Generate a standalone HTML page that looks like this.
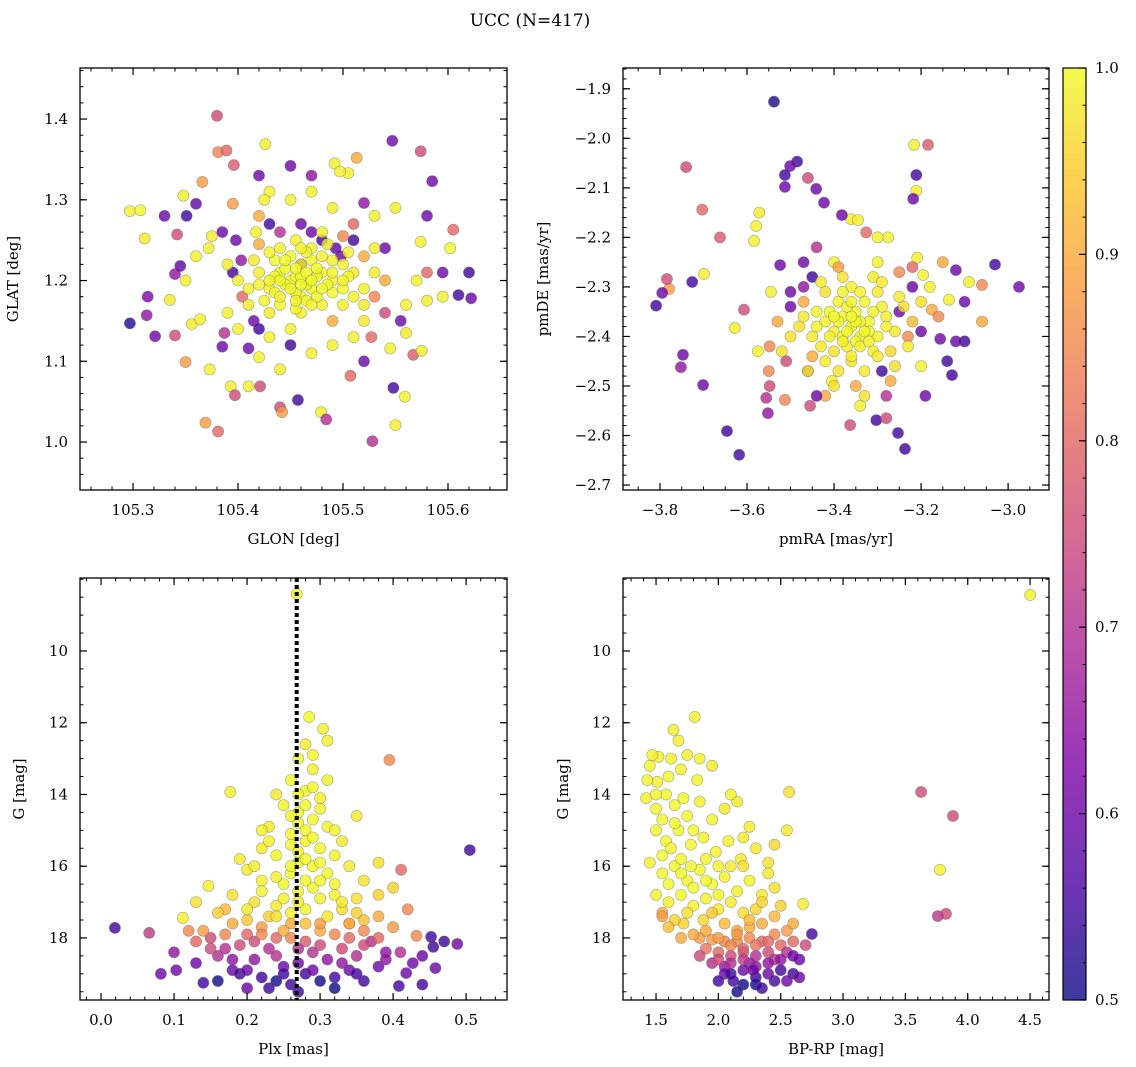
<!DOCTYPE html>
<html><head><meta charset="utf-8"><title>UCC (N=417)</title>
<style>
html,body{margin:0;padding:0;background:#fff;}
svg{display:block;font-family:"DejaVu Serif","Liberation Serif",serif;}
</style></head>
<body>
<svg id="fig" width="1136" height="1067" viewBox="0 0 1136 1067" xmlns="http://www.w3.org/2000/svg">
<defs>
<linearGradient id="plasma" x1="0" y1="1" x2="0" y2="0">
<stop offset="0" stop-color="#0d0887"/><stop offset="0.125" stop-color="#4c02a1"/><stop offset="0.25" stop-color="#7e03a8"/><stop offset="0.375" stop-color="#a92395"/><stop offset="0.5" stop-color="#cc4778"/><stop offset="0.625" stop-color="#e66c5c"/><stop offset="0.75" stop-color="#f89540"/><stop offset="0.875" stop-color="#fdc328"/><stop offset="1" stop-color="#f0f921"/>
</linearGradient>
</defs>
<text x="530" y="26" font-size="17" text-anchor="middle">UCC (N=417)</text>
</svg>
<script>
// ---- data: [x, y, membership probability] ----
const glonGlatProb = [
[105.297,1.286,.99],[105.307,1.287,1],[105.297,1.147,.52],[105.311,1.252,.98],[105.314,1.180,.62],[105.313,1.157,.65],[105.321,1.131,.6],[105.340,1.208,.65],[105.345,1.218,.58],[105.351,1.280,.55],[105.348,1.305,.99],[105.342,1.257,.75],[105.360,1.295,.58],[105.366,1.322,.88],[105.380,1.404,.75],[105.381,1.359,.85],[105.389,1.361,.8],[105.396,1.343,.78],[105.395,1.295,.88],[105.426,1.369,.99],[105.450,1.342,.6],[105.547,1.373,.6],[105.574,1.360,.75],[105.585,1.323,.6],[105.574,1.248,.99],[105.595,1.210,.6],[105.610,1.182,.55],[105.622,1.178,.6],[105.620,1.210,.55],[105.602,1.240,1],[105.605,1.263,.8],[105.595,1.180,.99],[105.567,1.108,.78],[105.548,1.067,.55],[105.559,1.056,.99],[105.550,1.021,.99],[105.528,1.001,.7],[105.479,1.037,.99],[105.484,1.028,.7],[105.457,1.052,.55],[105.440,1.043,.75],[105.442,1.037,.88],[105.369,1.024,.88],[105.381,1.013,.8],[105.393,1.069,.99],[105.410,1.069,.99],[105.421,1.069,.75],[105.397,1.058,.75],[105.507,1.082,.8],[105.350,1.099,.88],[105.373,1.090,.99],[105.340,1.132,.75],[105.335,1.176,.98],[105.356,1.146,.98],[105.364,1.152,.99],[105.387,1.135,.7],[105.385,1.118,.6],[105.410,1.116,.6],[105.420,1.105,.99],[105.545,1.116,.99],[105.560,1.135,.98],[105.575,1.113,.99],[105.555,1.150,.6],[105.540,1.160,.75],[105.560,1.170,.99],[105.580,1.175,.98],[105.580,1.210,.8],[105.540,1.240,.6],[105.520,1.296,.65],[105.530,1.280,.99],[105.510,1.270,.8],[105.505,1.333,.99],[105.513,1.352,.9],[105.470,1.330,.65],[105.492,1.345,.99],[105.497,1.335,.99],[105.470,1.310,.99],[105.430,1.310,.99],[105.425,1.300,.99],[105.385,1.260,.6],[105.372,1.240,.99],[105.375,1.255,.98],[105.398,1.250,.6],[105.403,1.225,.65],[105.395,1.210,.55],[105.404,1.180,.8],[105.415,1.150,.6],[105.420,1.140,.55],[105.430,1.130,.99],[105.450,1.120,.55],[105.470,1.110,.99],[105.490,1.120,.99],[105.510,1.130,.99],[105.520,1.150,.98],[105.527,1.130,.8],[105.498,1.230,.6],[105.480,1.250,.55],[105.460,1.270,.6],[105.440,1.260,.7],[105.420,1.280,.9],[105.417,1.260,.99],[105.460,1.220,.6],[105.493,1.240,.58],
[105.47,1.26,.6],[105.43,1.27,.55],[105.51,1.25,.55],[105.4,1.14,.99],[105.35,1.2,.99],[105.57,1.2,.99],[105.58,1.28,.6],[105.33,1.28,.6],[105.49,1.29,.99],[105.45,1.3,.99],[105.44,1.09,.99],[105.52,1.1,.6],[105.36,1.23,.99],[105.55,1.29,.99],[105.42,1.33,.6],[105.39,1.16,.99],
[105.44,1.21,1],[105.45,1.20,1],[105.46,1.22,.99],[105.47,1.19,1],[105.48,1.21,1],[105.46,1.18,1],[105.43,1.19,.99],[105.45,1.23,1],[105.49,1.20,.99],[105.50,1.19,1],[105.47,1.24,.99],[105.44,1.17,1],[105.48,1.17,.99],[105.51,1.21,.98],[105.42,1.21,.99],[105.455,1.205,1],[105.465,1.195,1],[105.475,1.205,1],[105.435,1.225,1],[105.49,1.225,.99],[105.50,1.17,.99],[105.46,1.16,.99],[105.43,1.16,.98],[105.52,1.19,.99],[105.455,1.25,.99],[105.485,1.245,.98],[105.445,1.195,1],[105.475,1.18,1],[105.49,1.185,1],[105.46,1.205,1],[105.41,1.19,.99],[105.53,1.21,.98],[105.47,1.225,1],[105.44,1.24,.99],[105.425,1.175,.99],[105.505,1.235,.99],[105.415,1.225,.98],[105.52,1.23,.9],[105.5,1.255,.85],[105.45,1.14,.99],[105.49,1.15,.9],[105.53,1.18,.85],[105.42,1.245,.9],[105.40,1.20,.99],[105.54,1.20,.9],[105.48,1.26,.99],[105.435,1.205,1],[105.465,1.175,1],[105.455,1.185,1],[105.485,1.195,1],[105.445,1.215,1],[105.475,1.215,1],[105.465,1.235,.99],[105.505,1.205,1],[105.435,1.185,1],[105.455,1.165,.99],
[105.445,1.225,1],[105.455,1.215,1],[105.465,1.21,1],[105.47,1.2,1],[105.48,1.19,1],[105.44,1.2,1],[105.43,1.2,.99],[105.45,1.19,1],[105.46,1.195,1],[105.47,1.17,.99],[105.49,1.21,.99],[105.50,1.22,.99],[105.51,1.18,.99],[105.42,1.195,.99],[105.43,1.235,.99],[105.46,1.24,.99],[105.48,1.23,.99],[105.5,1.2,.99],[105.455,1.175,.99],[105.44,1.18,.99],[105.41,1.17,.98],[105.52,1.17,.98],[105.39,1.22,.98],[105.53,1.24,.98]
];
const pmraPmdeProb = [
[-3.538,-1.926,.52],[-3.485,-2.047,.55],[-3.501,-2.056,.6],[-3.513,-2.074,.55],[-3.513,-2.098,.6],[-3.46,-2.08,.75],[-3.441,-2.102,.6],[-3.423,-2.13,.6],[-3.216,-2.013,.99],[-3.184,-2.013,.78],[-3.211,-2.074,.55],[-3.211,-2.106,.99],[-3.218,-2.122,.6],[-3.74,-2.058,.75],[-3.662,-2.2,.78],[-3.703,-2.144,.8],[-3.572,-2.15,.98],[-3.579,-2.177,.99],[-3.584,-2.207,.99],[-3.699,-2.274,.99],[-3.779,-2.304,.88],[-3.784,-2.284,.75],[-3.809,-2.338,.55],[-3.726,-2.29,.55],[-3.795,-2.312,.6],[-3.747,-2.437,.6],[-3.752,-2.462,.65],[-3.701,-2.498,.6],[-3.646,-2.591,.55],[-3.618,-2.639,.55],[-3.556,-2.524,.7],[-3.552,-2.555,.65],[-3.237,-2.627,.55],[-3.253,-2.595,.55],[-3.303,-2.569,.55],[-3.28,-2.565,.75],[-2.975,-2.300,.6],[-3.03,-2.255,.55],[-3.06,-2.296,.85],[-3.09,-2.29,.99],[-3.12,-2.266,.6],[-3.1,-2.33,.6],[-3.1,-2.41,.55],[-3.12,-2.41,.6],[-3.14,-2.45,.55],[-3.06,-2.37,.9],[-3.129,-2.478,.55],[-3.156,-2.405,.6],[-3.136,-2.326,.99],[-3.175,-2.346,.9],[-3.195,-2.276,.99],[-3.209,-2.241,.99],[-3.276,-2.2,.99],[-3.326,-2.19,.8],[-3.361,-2.163,.99],[-3.382,-2.155,.6],[-3.345,-2.165,.99],[-3.524,-2.256,.6],[-3.545,-2.31,.99],[-3.607,-2.346,.75],[-3.628,-2.383,.99],[-3.575,-2.43,.99],[-3.548,-2.42,.85],[-3.548,-2.5,.75],[-3.513,-2.528,.85],[-3.455,-2.54,.75],[-3.363,-2.579,.75],[-3.34,-2.54,.99],[-3.405,-2.49,.99],[-3.2,-2.46,.99],[-3.19,-2.52,.6],[-3.22,-2.3,.6],[-3.5,-2.34,.6],[-3.47,-2.3,.65],[-3.45,-2.28,.55],[-3.25,-2.35,.6],[-3.23,-2.4,.85],[-3.29,-2.47,.55],[-3.46,-2.47,.7],[-3.42,-2.52,.9],[-3.51,-2.45,.75],[-3.18,-2.3,.99],[-3.15,-2.25,.9],[-3.44,-2.22,.7],[-3.4,-2.25,.99],[-3.3,-2.25,.99],[-3.25,-2.27,.85],
[-3.5,-2.31,.6],[-3.2,-2.39,.6],[-3.44,-2.52,.6],[-3.28,-2.52,.7],[-3.55,-2.47,.85],[-3.16,-2.36,.85],[-3.22,-2.26,.8],[-3.39,-2.26,.88],[-3.3,-2.2,.99],[-3.47,-2.25,.6],
[-3.36,-2.38,1],[-3.38,-2.36,1],[-3.34,-2.40,1],[-3.32,-2.37,1],[-3.40,-2.39,.99],[-3.35,-2.35,1],[-3.30,-2.40,.99],[-3.37,-2.42,.99],[-3.42,-2.37,.99],[-3.33,-2.33,1],[-3.28,-2.36,.99],[-3.39,-2.33,.99],[-3.45,-2.40,.98],[-3.31,-2.43,.99],[-3.36,-2.45,.98],[-3.40,-2.43,.97],[-3.26,-2.39,.98],[-3.44,-2.35,.99],[-3.36,-2.30,.99],[-3.30,-2.31,.98],[-3.42,-2.31,.97],[-3.34,-2.37,1],[-3.38,-2.40,1],[-3.48,-2.38,.97],[-3.24,-2.34,.97],[-3.33,-2.47,.98],[-3.39,-2.47,.97],[-3.27,-2.43,.96],[-3.45,-2.44,.9],[-3.50,-2.40,.97],[-3.22,-2.37,.92],[-3.35,-2.41,1],[-3.32,-2.39,1],[-3.37,-2.34,1],[-3.29,-2.34,.99],[-3.41,-2.35,1],[-3.43,-2.42,.98],[-3.31,-2.28,.98],[-3.38,-2.28,.97],[-3.35,-2.50,.9],[-3.27,-2.49,.9],[-3.47,-2.33,.9],[-3.53,-2.37,.9],
[-3.35,-2.37,1],[-3.37,-2.39,1],[-3.33,-2.39,1],[-3.39,-2.37,1],[-3.36,-2.36,1],[-3.34,-2.42,.99],[-3.38,-2.41,.99],[-3.31,-2.35,.99],[-3.41,-2.4,.99],[-3.32,-2.41,.99],[-3.4,-2.36,1],[-3.36,-2.33,.99],[-3.28,-2.38,.99],[-3.44,-2.38,.99],[-3.36,-2.44,.99],[-3.3,-2.44,.98],[-3.42,-2.45,.98],[-3.25,-2.32,.98],[-3.47,-2.36,.98],[-3.34,-2.31,.99],[-3.38,-2.31,.99],[-3.46,-2.47,.98],[-3.23,-2.42,.98],[-3.52,-2.43,.97],[-3.2,-2.33,.97],[-3.33,-2.52,.97],[-3.4,-2.5,.97],[-3.26,-2.46,.97],[-3.29,-2.29,.98],[-3.43,-2.29,.98]
];
const plxGmagProb = [
[0.019,17.72,.55],[0.066,17.86,.72],[0.082,19.0,.6],[0.103,18.9,.6],[0.112,17.44,.99],[0.505,15.55,.55],[0.488,18.17,.6],[0.408,19.34,.55],[0.418,18.98,.6],[0.458,18.84,.6],[0.452,17.97,.55],[0.455,18.25,.55],[0.427,18.7,.6],[0.432,17.94,.85],[0.411,16.1,.8],[0.395,13.04,.85],[0.13,18.7,.6],[0.14,19.25,.55],[0.16,19.2,.5],[0.17,18.3,.7],[0.15,18.0,.75],[0.12,17.8,.85],[0.18,18.9,.6],[0.2,19.4,.6],[0.21,18.6,.65],[0.22,19.1,.55],[0.24,19.2,.5],[0.25,18.8,.6],[0.26,19.3,.55],[0.28,19.0,.55],[0.3,19.2,.5],[0.32,19.1,.55],[0.34,18.9,.6],[0.36,19.2,.55],[0.38,18.8,.6],[0.39,18.4,.65],[0.37,18.1,.7],[0.35,18.5,.7],[0.33,18.3,.75],[0.31,18.6,.65],[0.29,18.4,.7],[0.27,18.7,.6],[0.23,18.3,.7],[0.19,18.2,.75],[0.16,18.5,.7],[0.2,17.9,.8],[0.24,18.0,.8],[0.28,18.1,.78],[0.32,17.9,.85],[0.36,17.8,.85],[0.4,17.7,.88],[0.42,17.2,.85],[0.38,17.4,.9],[0.34,17.6,.9],[0.3,17.8,.9],[0.26,17.6,.9],[0.22,17.7,.88],[0.18,17.6,.9],[0.14,17.8,.88],[0.17,17.2,.92],[0.41,18.4,.7],[0.44,18.5,.6],[0.1,18.4,.65],[0.27,19.5,.55],[0.23,19.4,.55],
[0.15,18.3,.75],[0.18,18.6,.65],[0.21,18.1,.75],[0.24,18.5,.7],[0.27,18.3,.7],[0.3,18.2,.75],[0.33,18.7,.65],[0.36,18.2,.75],[0.39,18.6,.65],[0.25,19.0,.55],[0.29,18.9,.6],[0.32,19.4,.5],[0.19,19.0,.55],[0.22,17.9,.85],[0.26,18.0,.85],[0.3,17.6,.88],[0.34,18.0,.8],[0.38,18.0,.8],[0.17,17.9,.85],[0.13,18.1,.8],[0.44,19.3,.55],[0.47,18.1,.55],[0.2,18.9,.6],[0.35,19.0,.55],
[0.268,8.41,.99],[0.285,11.84,1],[0.304,12.17,.99],[0.177,13.93,.99],[0.147,16.55,.99],[0.28,12.6,.99],[0.27,13.0,1],[0.29,13.3,.99],[0.26,13.6,1],[0.28,13.9,1],[0.3,14.1,.99],[0.25,14.3,.99],[0.27,14.5,1],[0.29,14.7,1],[0.31,14.9,.99],[0.23,14.9,.98],[0.26,15.1,1],[0.28,15.3,1],[0.3,15.5,1],[0.33,15.3,.98],[0.22,15.5,.98],[0.24,15.7,1],[0.27,15.9,1],[0.29,16.0,1],[0.31,16.2,1],[0.34,16.0,.98],[0.36,16.4,.97],[0.2,16.1,.98],[0.22,16.4,.99],[0.25,16.5,1],[0.27,16.7,1],[0.29,16.6,1],[0.32,16.8,.99],[0.35,16.9,.97],[0.38,16.8,.95],[0.18,16.8,.97],[0.21,17.0,.97],[0.24,17.1,.98],[0.26,17.3,.99],[0.28,17.2,1],[0.31,17.4,.98],[0.33,17.2,.97],[0.36,17.5,.93],[0.16,17.3,.95],[0.2,17.5,.94],[0.23,17.4,.95],[0.3,16.4,1],[0.26,16.2,1],[0.32,15.7,.99],[0.35,14.6,.98],[0.24,14.0,.98],[0.31,13.6,.99],[0.22,15.0,.99],[0.38,15.9,.97],[0.4,16.6,.95],[0.13,17.0,.97],[0.19,15.8,.98],[0.34,17.6,.9],[0.28,17.6,.93],[0.25,17.8,.9],
[0.27,14.0,1],[0.28,14.3,1],[0.27,14.8,1],[0.28,15.0,1],[0.29,15.2,1],[0.26,15.4,1],[0.27,15.6,1],[0.28,15.8,1],[0.3,15.9,1],[0.26,16.0,1],[0.28,16.4,1],[0.24,16.3,.99],[0.3,16.9,.99],[0.27,17.0,.99],[0.25,16.9,.99],[0.22,16.7,.99],[0.32,16.5,.99],[0.33,17.0,.98],[0.2,17.2,.98],[0.24,17.4,.97],[0.35,17.3,.95],[0.29,13.8,1],[0.26,14.6,1],[0.3,14.4,.99],[0.32,15.0,.99],[0.23,15.3,.99],[0.21,16.0,.98],[0.29,12.9,.99],[0.31,12.5,.99]
];
const bprpGmagProb = [
[4.5,8.44,.99],[3.626,13.93,.75],[3.882,14.6,.75],[2.567,13.93,.97],[3.778,16.1,.99],[3.826,17.33,.75],[3.76,17.39,.72],[2.68,17.05,.99],[2.75,17.89,.55],
[1.81,11.84,.99],[1.64,12.2,.99],[1.51,13.65,.99],[1.52,12.95,.99],[1.45,13.2,1],[1.42,14.1,.99],[1.5,14.4,1],[1.58,14.0,1],[1.7,13.3,.99],[1.75,12.9,.99],[1.85,13.0,.99],[1.95,13.2,.98],[1.6,13.5,1],[1.65,14.3,1],[1.75,14.6,1],[1.85,14.2,.99],[1.95,14.7,.99],[2.05,14.4,.98],[2.15,14.2,.98],[2.25,14.9,.98],[1.5,15.0,1],[1.58,15.3,1],[1.68,15.0,1],[1.78,15.4,1],[1.88,15.2,.99],[1.98,15.6,.99],[2.08,15.3,.99],[2.18,15.8,.98],[2.3,15.5,.98],[2.4,15.9,.97],[1.45,15.9,.99],[1.55,16.2,1],[1.65,16.0,1],[1.75,16.4,1],[1.85,16.1,1],[1.95,16.5,1],[2.05,16.3,.99],[2.15,16.7,.99],[2.25,16.4,.99],[2.35,16.8,.98],[2.45,16.6,.97],[1.5,16.8,.99],[1.6,17.0,.99],[1.7,16.8,1],[1.8,17.1,.99],[1.9,16.9,.99],[2.0,17.2,.98],[2.1,17.0,.98],[2.2,17.3,.97],[2.3,17.2,.96],[2.5,17.1,.95],[2.1,14.0,.99],[2.2,15.2,.98],[1.88,17.5,.96],[1.72,17.6,.95],[2.4,16.2,.98],[2.55,15.0,.98],
[1.5,14.0,1],[1.55,14.7,1],[1.62,15.5,1],[1.7,15.8,1],[1.78,16.0,1],[1.6,16.5,1],[1.7,16.2,1],[1.8,16.6,1],[1.9,16.4,1],[2.0,16.8,1],[1.55,15.7,1],[1.65,14.8,1],[1.72,14.1,1],[1.8,15.0,1],[1.9,15.8,.99],[2.0,16.0,.99],[1.62,13.0,.99],[1.47,12.9,.99],[1.43,13.6,.99],[1.68,12.5,.99],[1.83,13.6,.99],[2.1,16.0,.98],[2.2,16.0,.97],[1.75,17.3,.97],[1.65,17.5,.95],[1.95,17.3,.94],[2.35,17.0,.95],[2.45,15.4,.96],
[1.85,18.0,.88],[1.95,18.05,.88],[2.05,18.1,.85],[2.15,18.1,.85],[2.25,18.0,.85],[2.35,18.1,.8],[2.45,17.9,.85],[2.55,17.8,.88],[2.6,17.6,.9],[2.45,17.4,.92],[2.35,17.6,.9],[2.25,17.7,.9],[2.15,17.8,.9],[2.05,17.6,.92],[1.8,17.9,.9],[1.7,18.0,.9],[1.6,17.7,.93],[1.55,17.3,.9],[1.55,17.4,.88],
[2.1,18.2,.85],[2.2,18.3,.8],[2.3,18.2,.82],[2.4,18.1,.8],[2.0,18.0,.88],[1.9,17.8,.9],[2.15,17.9,.88],[2.25,17.5,.92],
[2.7,18.2,.75],[2.6,18.1,.8],[2.5,18.2,.8],[2.4,18.4,.75],[2.3,18.5,.7],[2.2,18.4,.78],[2.1,18.5,.75],[2.0,18.4,.8],[1.9,18.3,.82],[2.05,18.8,.65],[1.95,18.7,.7],[2.25,18.7,.65],[2.45,18.6,.7],[2.55,18.4,.7],[2.65,18.6,.6],[1.85,18.5,.75],[2.6,18.5,.6],
[2.0,18.6,.75],[2.1,18.7,.7],[2.2,18.6,.72],[2.3,18.8,.65],[2.4,18.7,.65],[2.5,18.6,.65],[2.2,18.9,.6],[2.05,19.0,.6],[2.3,19.3,.5],[2.45,19.2,.55],
[2.0,19.2,.55],[2.1,19.0,.55],[2.2,19.3,.5],[2.3,19.1,.55],[2.4,19.0,.6],[2.5,18.9,.55],[2.6,19.0,.55],[2.65,19.1,.6],[2.35,19.4,.55],[2.15,19.5,.5],[2.12,19.2,.55],[2.28,18.9,.6],[2.55,19.2,.6]
];
const cbarTicks = [0.5,0.6,0.7,0.8,0.9,1.0];

// ---- rendering ----
const svg = document.getElementById('fig');
const NS = 'http://www.w3.org/2000/svg';
const stops = [[0,[13,8,135]],[.125,[76,2,161]],[.25,[126,3,168]],[.375,[169,35,149]],[.5,[204,71,120]],[.625,[230,108,92]],[.75,[248,149,64]],[.875,[253,195,40]],[1,[240,249,33]]];
function plasma(p){
  let t=Math.max(0,Math.min(1,(p-0.5)/0.5));
  for(let i=1;i<stops.length;i++){ if(t<=stops[i][0]){ const a=stops[i-1],b=stops[i],f=(t-a[0])/(b[0]-a[0]);
    return 'rgb('+a[1].map((c,k)=>Math.round(c+(b[1][k]-c)*f)).join(',')+')'; } }
  return 'rgb(240,249,33)';
}
function mk(tag, attrs, parent){ const e=document.createElementNS(NS,tag); for(const k in attrs) e.setAttribute(k,attrs[k]); (parent||svg).appendChild(e); return e; }
function fmt(v,d){ return (Math.abs(v)<1e-9?0:v).toFixed(d).replace('-','\u2212'); }

const panels = [
 {key:'glon-glat', data:glonGlatProb, L:80,R:507,T:68,B:490, x0:105.2495,x1:105.6562, y0:0.9406,y1:1.4632,
  xt:[105.3,105.4,105.5,105.6], xd:1, xm:0.02, yt:[1.0,1.1,1.2,1.3,1.4], yd:1, ym:0.02, xl:'GLON [deg]', yl:'GLAT [deg]', ylx:18},
 {key:'pmra-pmde', data:pmraPmdeProb, L:623,R:1049,T:68,B:490, x0:-3.885,x1:-2.906, y0:-2.710,y1:-1.858,
  xt:[-3.8,-3.6,-3.4,-3.2,-3.0], xd:1, xm:0.05, yt:[-2.7,-2.6,-2.5,-2.4,-2.3,-2.2,-2.1,-2.0,-1.9], yd:1, ym:0.02, xl:'pmRA [mas/yr]', yl:'pmDE [mas/yr]', ylx:548},
 {key:'plx-gmag', data:plxGmagProb, L:80,R:507,T:578,B:1000, x0:-0.0288,x1:0.556, y0:19.73,y1:7.965,
  xt:[0,0.1,0.2,0.3,0.4,0.5], xd:1, xm:0.02, yt:[10,12,14,16,18], yd:0, ym:0.5, xl:'Plx [mas]', yl:'G [mag]', ylx:24, vline:0.268},
 {key:'bprp-gmag', data:bprpGmagProb, L:623,R:1049,T:578,B:1000, x0:1.235,x1:4.652, y0:19.73,y1:7.965,
  xt:[1.5,2.0,2.5,3.0,3.5,4.0,4.5], xd:1, xm:0.1, yt:[10,12,14,16,18], yd:0, ym:0.5, xl:'BP-RP [mag]', yl:'G [mag]', ylx:568}
];

panels.forEach(P=>{
  const g = mk('g',{});
  
  
  const sx = v => P.L + (v-P.x0)/(P.x1-P.x0)*(P.R-P.L);
  const sy = v => P.B - (v-P.y0)/(P.y1-P.y0)*(P.B-P.T);
  const clipId='clip-'+P.key;
  const cp=mk('clipPath',{id:clipId},g); mk('rect',{x:P.L,y:P.T,width:P.R-P.L,height:P.B-P.T},cp);
  const pts = mk('g',{'clip-path':'url(#'+clipId+')'},g);
  P.data.forEach(d=>{
    const c = mk('circle',{cx:sx(d[0]).toFixed(1), cy:sy(d[1]).toFixed(1), r:5.6, fill:plasma(d[2]), 'fill-opacity':0.8, stroke:'#666', 'stroke-opacity':0.55, 'stroke-width':0.6}, pts);
    
    
  });
  if(P.vline!==undefined){
    const l = mk('line',{x1:sx(P.vline),x2:sx(P.vline),y1:P.T,y2:P.B,stroke:'#000','stroke-width':4,'stroke-dasharray':'4,3'},g);
    
    
  }
  const frame = mk('rect',{x:P.L,y:P.T,width:P.R-P.L,height:P.B-P.T,fill:'none',stroke:'#000','stroke-width':1.3},g);
  
  
  const xlo=Math.min(P.x0,P.x1), xhi=Math.max(P.x0,P.x1), ylo=Math.min(P.y0,P.y1), yhi=Math.max(P.y0,P.y1);
  for(let v=Math.ceil(xlo/P.xm)*P.xm; v<=xhi; v+=P.xm){ const x=sx(v);
    mk('line',{x1:x,x2:x,y1:P.B,y2:P.B-3.5,stroke:'#000','stroke-width':1},g); mk('line',{x1:x,x2:x,y1:P.T,y2:P.T+3.5,stroke:'#000','stroke-width':1},g); }
  for(let v=Math.ceil(ylo/P.ym)*P.ym; v<=yhi; v+=P.ym){ const y=sy(v);
    mk('line',{x1:P.L,x2:P.L+3.5,y1:y,y2:y,stroke:'#000','stroke-width':1},g); mk('line',{x1:P.R,x2:P.R-3.5,y1:y,y2:y,stroke:'#000','stroke-width':1},g); }
  P.xt.forEach(v=>{ const x=sx(v);
    mk('line',{x1:x,x2:x,y1:P.B,y2:P.B-7,stroke:'#000','stroke-width':1.2},g); mk('line',{x1:x,x2:x,y1:P.T,y2:P.T+7,stroke:'#000','stroke-width':1.2},g);
    const t=mk('text',{x:x,y:P.B+25,'font-size':15,'text-anchor':'middle'},g); t.textContent=fmt(v,P.xd);
    
     });
  P.yt.forEach(v=>{ const y=sy(v);
    mk('line',{x1:P.L,x2:P.L+7,y1:y,y2:y,stroke:'#000','stroke-width':1.2},g); mk('line',{x1:P.R,x2:P.R-7,y1:y,y2:y,stroke:'#000','stroke-width':1.2},g);
    const t=mk('text',{x:P.L-12,y:y+5,'font-size':15,'text-anchor':'end'},g); t.textContent=fmt(v,P.yd);
    
     });
  const xl=mk('text',{x:(P.L+P.R)/2,y:P.B+54,'font-size':15,'text-anchor':'middle'},g); xl.textContent=P.xl;
  
  
  const yc=(P.T+P.B)/2;
  const yl=mk('text',{x:P.ylx,y:yc,'font-size':15,'text-anchor':'middle',transform:'rotate(-90 '+P.ylx+' '+yc+')'},g); yl.textContent=P.yl;
  
  
});

// colorbar
const CB={L:1063,R:1086,T:68,B:1000,v0:0.5,v1:1.0};
const cb = mk('g',{});


mk('rect',{x:CB.L,y:CB.T,width:CB.R-CB.L,height:CB.B-CB.T,fill:'url(#plasma)','fill-opacity':0.8},cb);
mk('rect',{x:CB.L,y:CB.T,width:CB.R-CB.L,height:CB.B-CB.T,fill:'none',stroke:'#000','stroke-width':1.2},cb);
const cy = v => CB.B - (v-CB.v0)/(CB.v1-CB.v0)*(CB.B-CB.T);
for(let v=CB.v0; v<=CB.v1+1e-9; v+=0.02){ const y=cy(v); mk('line',{x1:CB.R,x2:CB.R-3.5,y1:y,y2:y,stroke:'#000','stroke-width':1},cb); }
cbarTicks.forEach(v=>{ const y=cy(v);
  mk('line',{x1:CB.R,x2:CB.R-7,y1:y,y2:y,stroke:'#000','stroke-width':1.2},cb);
  const t=mk('text',{x:CB.R+9,y:y+5,'font-size':15},cb); t.textContent=v.toFixed(1);
  
   });
</script>
</body></html>
